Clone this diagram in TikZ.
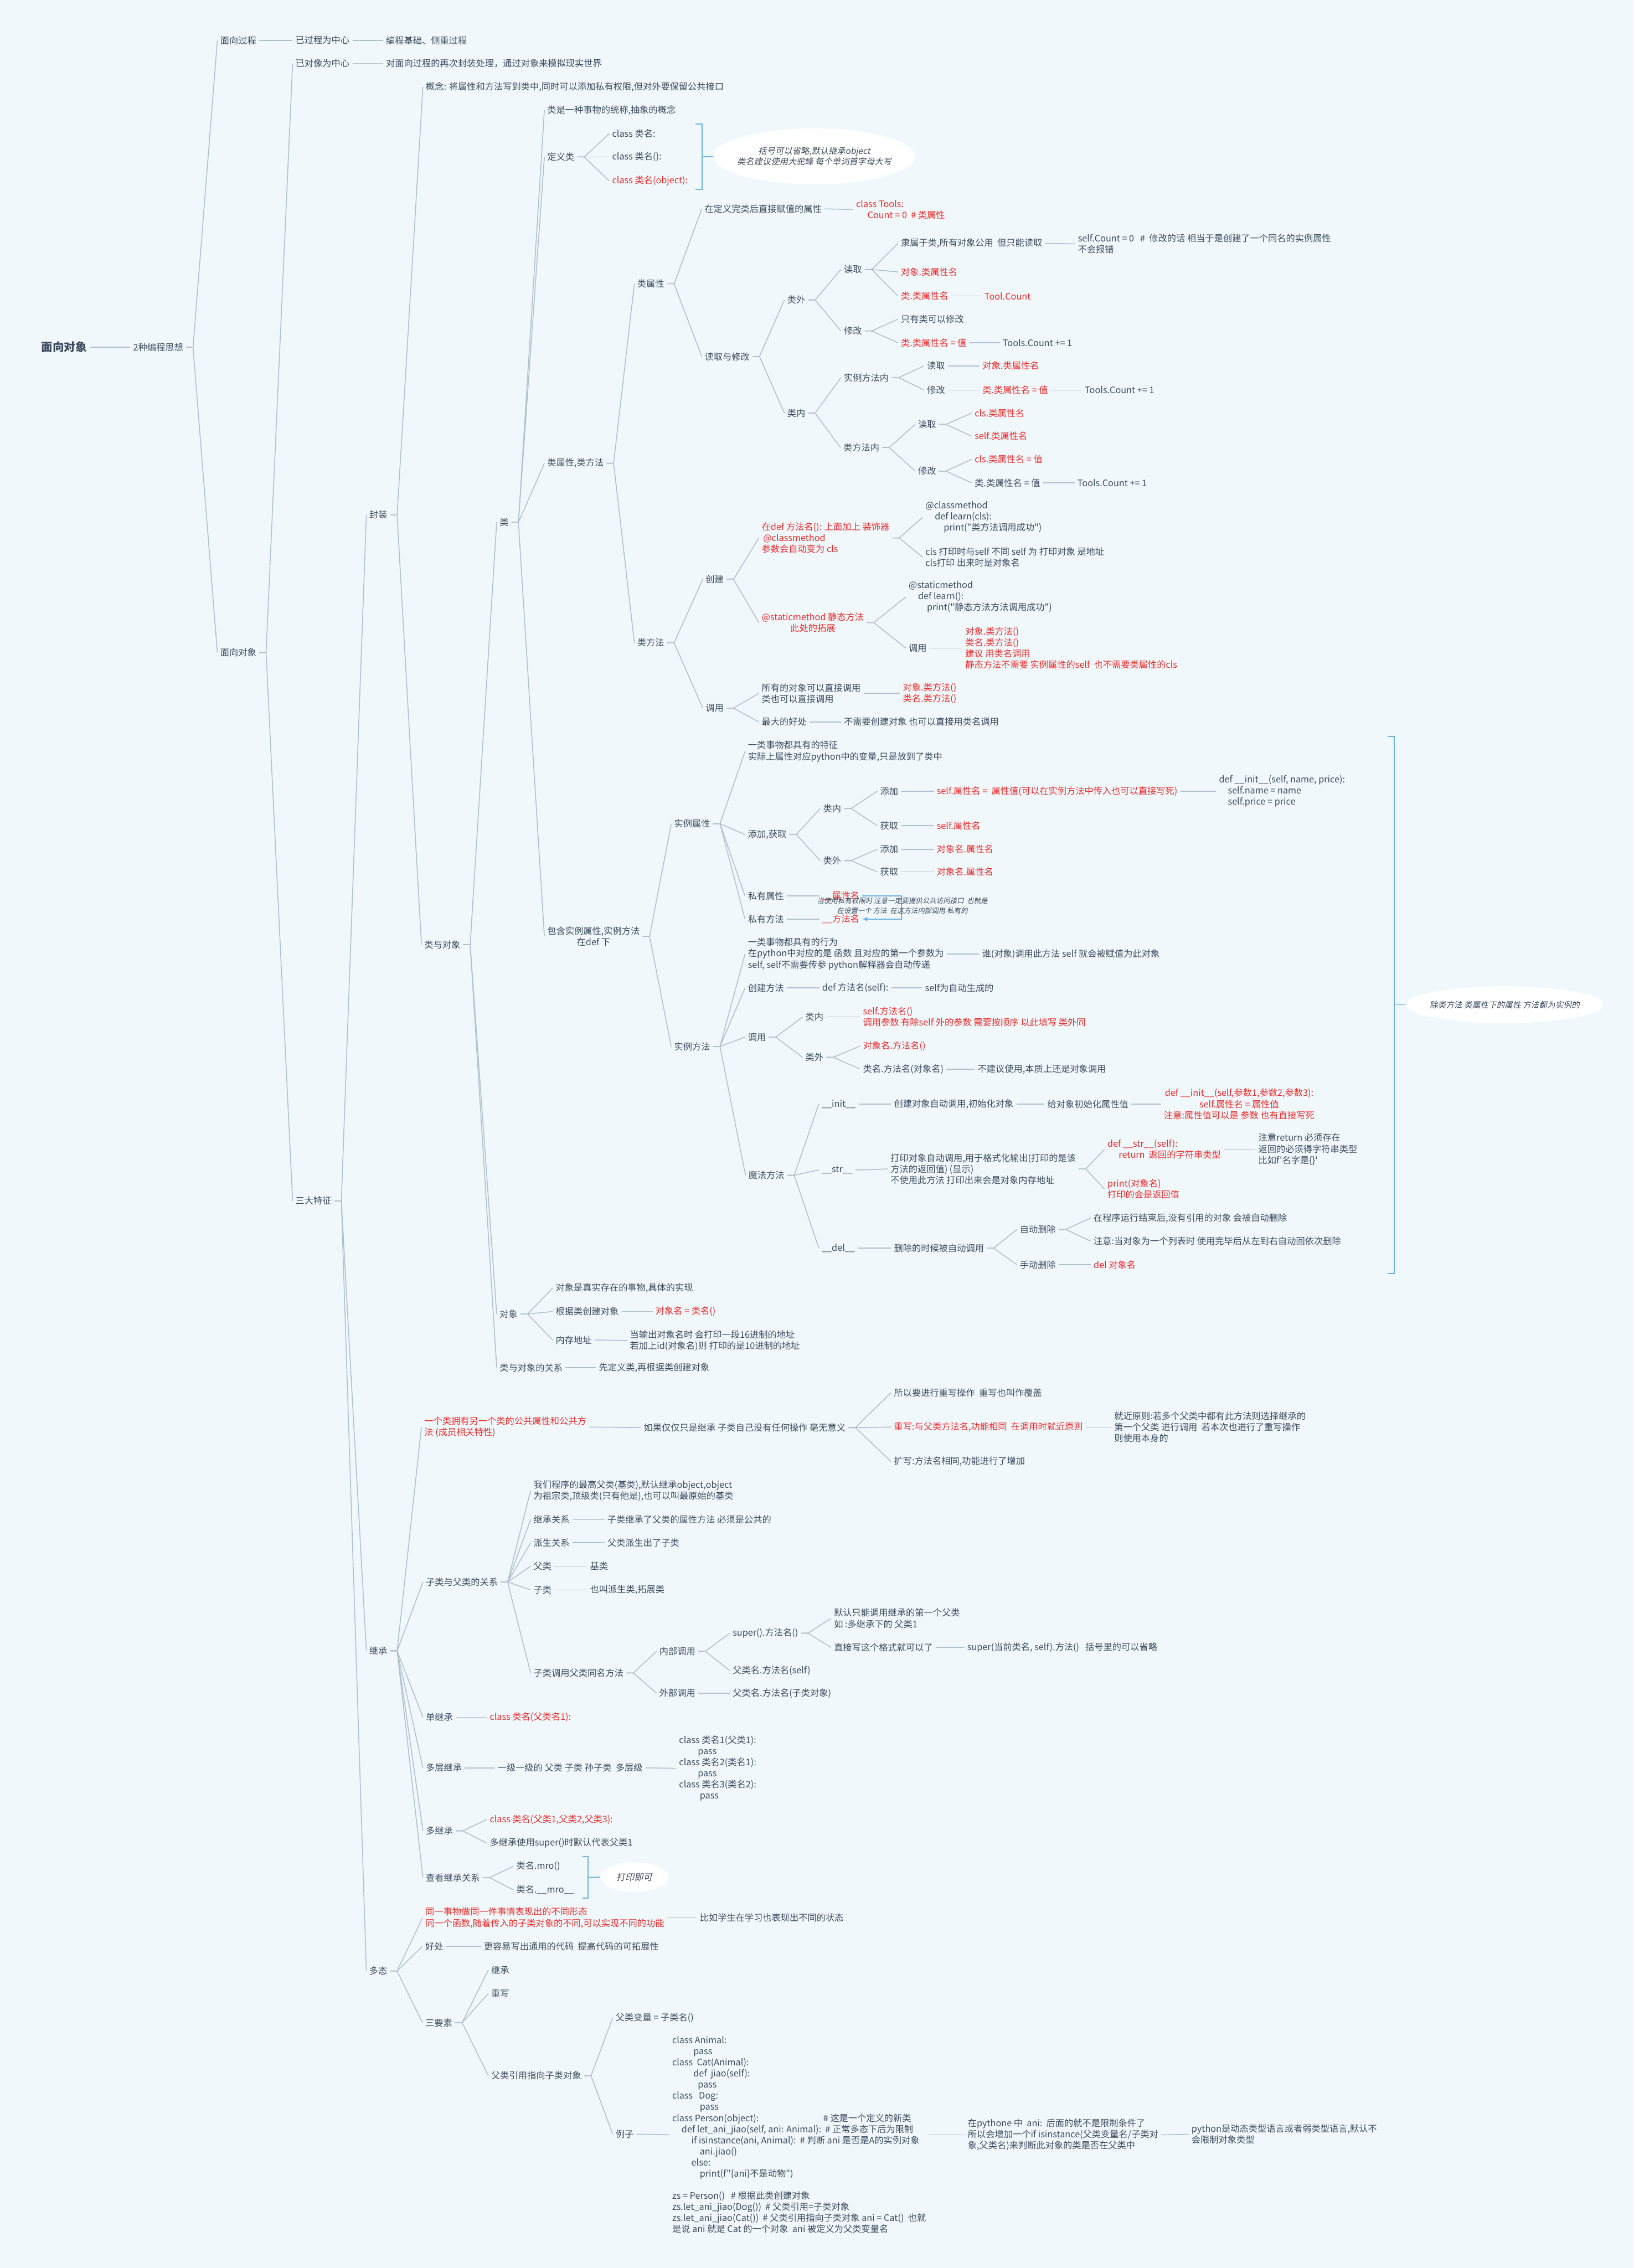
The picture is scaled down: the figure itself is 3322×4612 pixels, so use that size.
\documentclass[tikz,border=0pt]{standalone}
\usepackage{fontspec}
\newfontfamily\mmfont{Noto Sans CJK SC}
\newfontfamily\mmit[FakeSlant=0.18]{Noto Sans CJK SC}
\usepackage{xcolor}
\usepackage{tikz}
\usetikzlibrary{shapes.geometric,arrows.meta}
\definecolor{MMBack}{HTML}{F0F8FB}
\definecolor{MMText}{HTML}{3D4A5E}
\definecolor{MMRed}{HTML}{EE2A2A}
\definecolor{MMLine}{HTML}{B3BFCD}
\definecolor{MMBlue}{HTML}{6CB2E2}
\newcommand{\mmlink}[2]{\draw[mmline] (#1.east) -- ++(14,0) -- (#2.west);}

\begin{document}
\begin{tikzpicture}[x=0.01cm,y=-0.01cm,
  mmtext/.style={anchor=west,inner xsep=1.5pt,inner ysep=1pt,text=MMText,align=left,font=\mmfont\fontsize{5.2}{6.43}\selectfont},
  mmred/.style={mmtext,text=MMRed},
  mmline/.style={draw=MMLine,line width=.5pt},
  mmnote/.style={ellipse,fill=white,inner sep=0pt,text=MMText,align=center,font=\mmit\fontsize{4.9}{6.2}\selectfont},
  mmbrace/.style={draw=MMBlue,line width=.6pt}]
\path[use as bounding box] (0,0) rectangle (3322,4612);
\fill[MMBack] (0,0) rectangle (3322,4612);

\node[mmtext,font=\mmfont\fontsize{6.6}{8}\selectfont\bfseries] (root) at (78,706) {面向对象};
\node[mmtext] (bc) at (265,706) {2种编程思想};
\node[mmtext] (mxgc) at (442,82) {面向过程};
\node[mmtext] (mxdx) at (442,1327) {面向对象};
\node[mmtext] (gcz) at (595,82) {已过程为中心};
\node[mmtext] (gczA) at (779,82) {编程基础、侧重过程};
\node[mmtext] (dxz) at (595,129) {已对像为中心};
\node[mmtext] (dxzA) at (779,129) {对面向过程的再次封装处理，通过对象来模拟现实世界};
\node[mmtext] (tz) at (595,2442) {三大特征};
\node[mmtext] (fz) at (745,1047) {封装};
\node[mmtext] (jc) at (745,3357) {继承};
\node[mmtext] (dt) at (745,4008) {多态};
\node[mmtext] (gn) at (860,177) {概念: 将属性和方法写到类中,同时可以添加私有权限,但对外要保留公共接口};
\node[mmtext] (lyd) at (857,1921) {类与对象};
\node[mmtext] (lei) at (1010,1062) {类};
\node[mmtext] (dx) at (1010,2672) {对象};
\node[mmtext] (gx) at (1010,2781) {类与对象的关系};
\node[mmtext] (gxA) at (1212,2781) {先定义类,再根据类创建对象};

\node[mmtext] (lsy) at (1107,224) {类是一种事物的统称,抽象的概念};
\node[mmtext] (dyl) at (1107,319) {定义类};
\node[mmtext] (lsf) at (1107,942) {类属性,类方法};
\node[mmtext,align=center] (slf) at (1107,1904) {包含实例属性,实例方法\\在def 下};
\node[mmtext] (cA) at (1239,272) {class 类名:};
\node[mmtext] (cB) at (1239,319) {class 类名():};
\node[mmred] (cC) at (1239,368) {class 类名(object):};
\node[mmnote,inner xsep=-0.18cm,minimum width=4.1cm,minimum height=1.14cm] (kh) at (1656,318) {括号可以省略,默认继承object\\类名建议使用大驼峰 每个单词首字母大写};
\draw[mmbrace] (1414,252) -- (1428,252) -- (1428,385) -- (1414,385);
\draw[mmbrace] (1428,319) -- (kh.west);

\node[mmtext] (lsx) at (1290,577) {类属性};
\node[mmtext] (lff) at (1290,1307) {类方法};
\node[mmtext] (zjfz) at (1427,425) {在定义完类后直接赋值的属性};
\node[mmred] (tools) at (1735,426) {class Tools:\\\hspace*{0.23cm}Count = 0 \ \# 类属性};
\node[mmtext] (dqxg) at (1427,725) {读取与修改};
\node[mmtext] (lw) at (1595,610) {类外};
\node[mmtext] (lnei) at (1595,840) {类内};
\node[mmtext] (lwdq) at (1710,548) {读取};
\node[mmtext] (lwxg) at (1710,673) {修改};
\node[mmtext] (lsA) at (1826,495) {隶属于类,所有对象公用\ \ 但只能读取};
\node[mmred] (lsB) at (1826,553) {对象.类属性名};
\node[mmred] (lsC) at (1826,602) {类.类属性名};
\node[mmtext] (lsAa) at (2186,496) {self.Count = 0 \ \ \# \ 修改的话 相当于是创建了一个同名的实例属性\\不会报错};
\node[mmred] (lsCa) at (1996,602) {Tool.Count};
\node[mmtext] (lxA) at (1826,649) {只有类可以修改};
\node[mmred] (lxB) at (1826,697) {类.类属性名 = 值};
\node[mmtext] (lxBa) at (2033,697) {Tools.Count += 1};
\node[mmtext] (slfn) at (1710,768) {实例方法内};
\node[mmtext] (lffn) at (1709,910) {类方法内};
\node[mmtext] (sdq) at (1879,744) {读取};
\node[mmred] (sdqA) at (1992,744) {对象.类属性名};
\node[mmtext] (sxg) at (1879,793) {修改};
\node[mmred] (sxgA) at (1992,793) {类.类属性名 = 值};
\node[mmtext] (sxgB) at (2200,793) {Tools.Count += 1};
\node[mmtext] (fdq) at (1861,863) {读取};
\node[mmred] (fdqA) at (1976,840) {cls.类属性名};
\node[mmred] (fdqB) at (1976,887) {self.类属性名};
\node[mmtext] (fxg) at (1861,958) {修改};
\node[mmred] (fxgA) at (1976,934) {cls.类属性名 = 值};
\node[mmtext] (fxgB) at (1976,982) {类.类属性名 = 值};
\node[mmtext] (fxgC) at (2185,982) {Tools.Count += 1};

\node[mmtext] (cj) at (1429,1178) {创建};
\node[mmtext] (dy) at (1429,1440) {调用};
\node[mmred] (cjA) at (1543,1094) {在def 方法名(): 上面加上 装饰器\\\hspace*{0.03cm}@classmethod\\参数会自动变为 cls};
\node[mmred,align=center] (cjB) at (1543,1266) {@staticmethod 静态方法\\此处的拓展};
\node[mmtext] (cmdA) at (1876,1052) {@classmethod\\\hspace*{0.19cm}def learn(cls):\\\hspace*{0.37cm}print("类方法调用成功")};
\node[mmtext] (cmdB) at (1876,1133) {cls 打印时与self 不同 self 为 打印对象 是地址\\cls打印 出来时是对象名};
\node[mmtext] (smA) at (1842,1214) {@staticmethod\\\hspace*{0.19cm}def learn():\\\hspace*{0.37cm}print("静态方法方法调用成功")};
\node[mmtext] (smB) at (1842,1318) {调用};
\node[mmred] (smC) at (1957,1318) {对象.类方法()\\类名.类方法()\\建议 用类名调用\\静态方法不需要 实例属性的self \ 也不需要类属性的cls};
\node[mmtext] (dyA) at (1543,1410) {所有的对象可以直接调用\\类也可以直接调用};
\node[mmred] (dyAa) at (1830,1410) {对象.类方法()\\类名.类方法()};
\node[mmtext] (dyB) at (1543,1468) {最大的好处};
\node[mmtext] (dyBa) at (1710,1468) {不需要创建对象 也可以直接用类名调用};

\node[mmtext] (sx) at (1365,1675) {实例属性};
\node[mmtext] (sf) at (1365,2128) {实例方法};
\node[mmtext] (sxA) at (1515,1528) {一类事物都具有的特征\\实际上属性对应python中的变量,只是放到了类中};
\node[mmtext] (tjhq) at (1515,1697) {添加,获取};
\node[mmtext] (sysx) at (1515,1822) {私有属性};
\node[mmtext] (syff) at (1515,1869) {私有方法};
\node[mmtext] (tn) at (1668,1644) {类内};
\node[mmtext] (tw) at (1668,1750) {类外};
\node[mmtext] (tnA) at (1784,1609) {添加};
\node[mmred] (tnAa) at (1899,1609) {self.属性名 = \ 属性值(可以在实例方法中传入也可以直接写死)};
\node[mmtext] (tnAb) at (2473,1609) {def \_\_init\_\_(self, name, price):\\\hspace*{0.18cm}self.name = name\\\hspace*{0.18cm}self.price = price};
\node[mmtext] (tnB) at (1784,1679) {获取};
\node[mmred] (tnBa) at (1899,1679) {self.属性名};
\node[mmtext] (twA) at (1784,1727) {添加};
\node[mmred] (twAa) at (1899,1727) {对象名.属性名};
\node[mmtext] (twB) at (1784,1773) {获取};
\node[mmred] (twBa) at (1899,1773) {对象名.属性名};
\node[mmred] (sysxA) at (1666,1822) {\_\_属性名};
\node[mmred] (syffA) at (1666,1869) {\_\_方法名};
\coordinate (rlk) at (1833,1822);
\draw[mmbrace,-{Latex[length=3pt,width=2.6pt]}] (sysxA.east) -- (rlk) |- (syffA.east);
\node[mmtext,anchor=center,align=center,font=\mmit\fontsize{4}{5.6}\selectfont] (rlt) at (1835,1842) {当使用私有权限时 注意一定要提供公共访问接口\ \ 也就是\\在设置一个 方法\ \ 在这方法内部调用 私有的};

\node[mmtext] (sfA) at (1515,1940) {一类事物都具有的行为\\在python中对应的是 函数 且对应的第一个参数为\\self, self不需要传参 python解释器会自动传递};
\node[mmtext] (sfAa) at (1991,1940) {谁(对象)调用此方法 self 就会被赋值为此对象};
\node[mmtext] (cjff) at (1515,2009) {创建方法};
\node[mmtext] (cjffA) at (1666,2009) {def 方法名(self):};
\node[mmtext] (cjffB) at (1875,2009) {self为自动生成的};
\node[mmtext] (sfdy) at (1515,2109) {调用};
\node[mmtext] (sfn) at (1632,2068) {类内};
\node[mmred] (sfnA) at (1749,2068) {self.方法名()\\调用参数 有除self 外的参数 需要按顺序 以此填写 类外同};
\node[mmtext] (sfw) at (1632,2150) {类外};
\node[mmred] (sfwA) at (1749,2127) {对象名.方法名()};
\node[mmtext] (sfwB) at (1749,2174) {类名.方法名(对象名)};
\node[mmtext] (sfwC) at (1982,2174) {不建议使用,本质上还是对象调用};
\node[mmtext] (msff) at (1516,2390) {魔法方法};
\node[mmtext] (zinit) at (1665,2245) {\_\_init\_\_};
\node[mmtext] (zinitA) at (1812,2245) {创建对象自动调用,初始化对象};
\node[mmtext] (zinitB) at (2124,2245) {给对象初始化属性值};
\node[mmred,align=center] (zinitC) at (2361,2245) {def \_\_init\_\_(self,参数1,参数2,参数3):\\self.属性名 = 属性值\\注意:属性值可以是 参数 也有直接写死};
\node[mmtext] (zstr) at (1665,2379) {\_\_str\_\_};
\node[mmtext] (zstrA) at (1805,2377) {打印对象自动调用,用于格式化输出(打印的是该\\方法的返回值) (显示)\\不使用此方法 打印出来会是对象内存地址};
\node[mmred] (zstrB) at (2246,2337) {def \_\_str\_\_(self):\\\hspace*{0.23cm}return\ \ 返回的字符串类型};
\node[mmtext] (zstrBa) at (2553,2337) {注意return 必须存在\\返回的必须得字符串类型\\比如f'名字是\{\}'};
\node[mmred] (zstrC) at (2246,2418) {print(对象名)\\打印的会是返回值};
\node[mmtext] (zdel) at (1665,2538) {\_\_del\_\_};
\node[mmtext] (zdelA) at (1812,2538) {删除的时候被自动调用};
\node[mmtext] (zd) at (2068,2500) {自动删除};
\node[mmtext] (zdA) at (2218,2477) {在程序运行结束后,没有引用的对象 会被自动删除};
\node[mmtext] (zdB) at (2218,2524) {注意:当对象为一个列表时 使用完毕后从左到右自动回依次删除};
\node[mmtext] (sd) at (2068,2572) {手动删除};
\node[mmred] (sdA) at (2218,2572) {del 对象名};
\node[mmnote,inner xsep=-0.24cm,minimum width=4cm,minimum height=0.75cm,font=\mmit\fontsize{4.7}{6}\selectfont] (slz) at (3060,2043) {除类方法 类属性下的属性 方法都为实例的};
\draw[mmbrace] (2822,1498) -- (2835,1498) -- (2835,2590) -- (2822,2590);
\draw[mmbrace] (2835,2043) -- (slz.west);

\node[mmtext] (dxA) at (1124,2619) {对象是真实存在的事物,具体的实现};
\node[mmtext] (dxB) at (1124,2667) {根据类创建对象};
\node[mmred] (dxBa) at (1327,2667) {对象名 = 类名()};
\node[mmtext] (dxC) at (1124,2725) {内存地址};
\node[mmtext] (dxCa) at (1275,2726) {当输出对象名时 会打印一段16进制的地址\\若加上id(对象名)则 打印的是10进制的地址};

\node[mmred] (jcA) at (857,2902) {一个类拥有另一个类的公共属性和公共方\\法 (成员相关特性)};
\node[mmtext] (jcAa) at (1303,2903) {如果仅仅只是继承 子类自己没有任何操作 毫无意义};
\node[mmtext] (cxA) at (1812,2832) {所以要进行重写操作\ \ 重写也叫作覆盖};
\node[mmred] (cxB) at (1812,2902) {重写:与父类方法名,功能相同\ \ 在调用时就近原则};
\node[mmtext] (cxBa) at (2260,2902) {就近原则:若多个父类中都有此方法则选择继承的\\第一个父类 进行调用\ \ 若本次也进行了重写操作\\则使用本身的};
\node[mmtext] (cxC) at (1812,2972) {扩写:方法名相同,功能进行了增加};
\node[mmtext] (zf) at (860,3217) {子类与父类的关系};
\node[mmtext] (zfA) at (1079,3031) {我们程序的最高父类(基类),默认继承object,object\\为祖宗类,顶级类(只有他是),也可以叫最原始的基类};
\node[mmtext] (zfB) at (1079,3090) {继承关系};
\node[mmtext] (zfBa) at (1229,3090) {子类继承了父类的属性方法 必须是公共的};
\node[mmtext] (zfC) at (1079,3137) {派生关系};
\node[mmtext] (zfCa) at (1229,3137) {父类派生出了子类};
\node[mmtext] (zfD) at (1079,3185) {父类};
\node[mmtext] (zfDa) at (1194,3185) {基类};
\node[mmtext] (zfE) at (1079,3233) {子类};
\node[mmtext] (zfEa) at (1194,3233) {也叫派生类,拓展类};
\node[mmtext] (zfF) at (1079,3402) {子类调用父类同名方法};
\node[mmtext] (nb) at (1335,3358) {内部调用};
\node[mmtext] (sp) at (1484,3321) {super().方法名()};
\node[mmtext] (spA) at (1690,3291) {默认只能调用继承的第一个父类\\如 :多继承下的 父类1};
\node[mmtext] (spB) at (1690,3350) {直接写这个格式就可以了};
\node[mmtext] (spBa) at (1961,3350) {super(当前类名, self).方法()\ \ \ 括号里的可以省略};
\node[mmtext] (fl) at (1484,3397) {父类名.方法名(self)};
\node[mmtext] (wb) at (1335,3443) {外部调用};
\node[mmtext] (wbA) at (1484,3443) {父类名.方法名(子类对象)};
\node[mmtext] (dj) at (860,3492) {单继承};
\node[mmred] (djA) at (990,3492) {class 类名(父类名1):};
\node[mmtext] (dcj) at (860,3595) {多层继承};
\node[mmtext] (dcjA) at (1006,3595) {一级一级的 父类 子类 孙子类\ \ 多层级};
\node[mmtext] (dcjB) at (1375,3596) {class 类名1(父类1):\\\hspace*{0.38cm}pass\\class 类名2(类名1):\\\hspace*{0.38cm}pass\\class 类名3(类名2):\\\hspace*{0.42cm}pass};
\node[mmtext] (djc) at (860,3723) {多继承};
\node[mmred] (djcA) at (990,3700) {class 类名(父类1,父类2,父类3):};
\node[mmtext] (djcB) at (990,3748) {多继承使用super()时默认代表父类1};
\node[mmtext] (ck) at (860,3818) {查看继承关系};
\node[mmtext] (ckA) at (1044,3795) {类名.mro()};
\node[mmtext] (ckB) at (1044,3843) {类名.\_\_mro\_\_};
\node[mmnote,minimum width=1.38cm,minimum height=0.6cm,font=\mmit\fontsize{5.2}{6.4}\selectfont] (dyk) at (1290,3817) {打印即可};
\draw[mmbrace] (1185,3775) -- (1196,3775) -- (1196,3860) -- (1185,3860);
\draw[mmbrace] (1196,3818) -- (dyk.west);

\node[mmred] (dtA) at (859,3900) {同一事物做同一件事情表现出的不同形态\\同一个函数,随着传入的子类对象的不同,可以实现不同的功能};
\node[mmtext] (dtAa) at (1417,3900) {比如学生在学习也表现出不同的状态};
\node[mmtext] (dtB) at (859,3958) {好处};
\node[mmtext] (dtBa) at (978,3958) {更容易写出通用的代码\ \ 提高代码的可拓展性};
\node[mmtext] (dtC) at (859,4113) {三要素};
\node[mmtext] (ysA) at (993,4006) {继承};
\node[mmtext] (ysB) at (993,4054) {重写};
\node[mmtext] (ysC) at (993,4221) {父类引用指向子类对象};
\node[mmtext] (ysCa) at (1246,4103) {父类变量 = 子类名()};
\node[mmtext] (lz) at (1246,4340) {例子};
\node[mmtext] (code) at (1361,4341) {class Animal:\\
\hspace*{0.43cm}pass\\
class\ \ Cat(Animal):\\
\hspace*{0.43cm}def\ \ jiao(self):\\
\hspace*{0.52cm}pass\\
class\ \ \ Dog:\\
\hspace*{0.56cm}pass\\
\makebox[3.07cm][l]{class Person(object):}\# 这是一个定义的新类\\
\hspace*{0.19cm}\makebox[2.92cm][l]{def let\_ani\_jiao(self, ani: Animal):}\# 正常多态下后为限制\\
\hspace*{0.39cm}if isinstance(ani, Animal):\ \ \# 判断 ani 是否是A的实例对象\\
\hspace*{0.56cm}ani.jiao()\\
\hspace*{0.39cm}else:\\
\hspace*{0.56cm}print(f"\{ani\}不是动物")\\[6.43pt]
zs = Person()\ \ \ \# 根据此类创建对象\\
zs.let\_ani\_jiao(Dog())\ \ \# 父类引用=子类对象\\
zs.let\_ani\_jiao(Cat())\ \ \# 父类引用指向子类对象 ani = Cat()\ \ 也就\\
是说 ani 就是 Cat 的一个对象\ \ ani 被定义为父类变量名};
\node[mmtext] (lzB) at (1962,4341) {在pythone 中\ \ ani:\ \ 后面的就不是限制条件了\\所以会增加一个if isinstance(父类变量名/子类对\\象,父类名)来判断此对象的类是否在父类中};
\node[mmtext] (lzC) at (2417,4340) {python是动态类型语言或者弱类型语言,默认不\\会限制对象类型};

\mmlink{root}{bc}
\mmlink{bc}{mxgc} \mmlink{bc}{mxdx}
\mmlink{mxgc}{gcz} \mmlink{gcz}{gczA}
\mmlink{mxdx}{dxz} \mmlink{mxdx}{tz} \mmlink{dxz}{dxzA}
\mmlink{tz}{fz} \mmlink{tz}{jc} \mmlink{tz}{dt}
\mmlink{fz}{gn} \mmlink{fz}{lyd}
\mmlink{lyd}{lei} \mmlink{lyd}{dx} \mmlink{lyd}{gx} \mmlink{gx}{gxA}
\mmlink{lei}{lsy} \mmlink{lei}{dyl} \mmlink{lei}{lsf} \mmlink{lei}{slf}
\mmlink{dyl}{cA} \mmlink{dyl}{cB} \mmlink{dyl}{cC}
\mmlink{lsf}{lsx} \mmlink{lsf}{lff}
\mmlink{lsx}{zjfz} \mmlink{lsx}{dqxg} \mmlink{zjfz}{tools}
\mmlink{dqxg}{lw} \mmlink{dqxg}{lnei}
\mmlink{lw}{lwdq} \mmlink{lw}{lwxg}
\mmlink{lwdq}{lsA} \mmlink{lwdq}{lsB} \mmlink{lwdq}{lsC} \mmlink{lsA}{lsAa} \mmlink{lsC}{lsCa}
\mmlink{lwxg}{lxA} \mmlink{lwxg}{lxB} \mmlink{lxB}{lxBa}
\mmlink{lnei}{slfn} \mmlink{lnei}{lffn}
\mmlink{slfn}{sdq} \mmlink{slfn}{sxg} \mmlink{sdq}{sdqA} \mmlink{sxg}{sxgA} \mmlink{sxgA}{sxgB}
\mmlink{lffn}{fdq} \mmlink{lffn}{fxg} \mmlink{fdq}{fdqA} \mmlink{fdq}{fdqB}
\mmlink{fxg}{fxgA} \mmlink{fxg}{fxgB} \mmlink{fxgB}{fxgC}
\mmlink{lff}{cj} \mmlink{lff}{dy}
\mmlink{cj}{cjA} \mmlink{cj}{cjB} \mmlink{cjA}{cmdA} \mmlink{cjA}{cmdB}
\mmlink{cjB}{smA} \mmlink{cjB}{smB} \mmlink{smB}{smC}
\mmlink{dy}{dyA} \mmlink{dy}{dyB} \mmlink{dyA}{dyAa} \mmlink{dyB}{dyBa}
\mmlink{slf}{sx} \mmlink{slf}{sf}
\mmlink{sx}{sxA} \mmlink{sx}{tjhq} \mmlink{sx}{sysx} \mmlink{sx}{syff}
\mmlink{tjhq}{tn} \mmlink{tjhq}{tw}
\mmlink{tn}{tnA} \mmlink{tn}{tnB} \mmlink{tnA}{tnAa} \mmlink{tnAa}{tnAb} \mmlink{tnB}{tnBa}
\mmlink{tw}{twA} \mmlink{tw}{twB} \mmlink{twA}{twAa} \mmlink{twB}{twBa}
\mmlink{sysx}{sysxA} \mmlink{syff}{syffA}
\mmlink{sf}{sfA} \mmlink{sf}{cjff} \mmlink{sf}{sfdy} \mmlink{sf}{msff}
\mmlink{sfA}{sfAa} \mmlink{cjff}{cjffA} \mmlink{cjffA}{cjffB}
\mmlink{sfdy}{sfn} \mmlink{sfdy}{sfw} \mmlink{sfn}{sfnA}
\mmlink{sfw}{sfwA} \mmlink{sfw}{sfwB} \mmlink{sfwB}{sfwC}
\mmlink{msff}{zinit} \mmlink{msff}{zstr} \mmlink{msff}{zdel}
\mmlink{zinit}{zinitA} \mmlink{zinitA}{zinitB} \mmlink{zinitB}{zinitC}
\mmlink{zstr}{zstrA} \mmlink{zstrA}{zstrB} \mmlink{zstrA}{zstrC} \mmlink{zstrB}{zstrBa}
\mmlink{zdel}{zdelA} \mmlink{zdelA}{zd} \mmlink{zdelA}{sd}
\mmlink{zd}{zdA} \mmlink{zd}{zdB} \mmlink{sd}{sdA}
\mmlink{dx}{dxA} \mmlink{dx}{dxB} \mmlink{dx}{dxC} \mmlink{dxB}{dxBa} \mmlink{dxC}{dxCa}
\mmlink{jc}{jcA} \mmlink{jc}{zf} \mmlink{jc}{dj} \mmlink{jc}{dcj} \mmlink{jc}{djc} \mmlink{jc}{ck}
\mmlink{jcA}{jcAa} \mmlink{jcAa}{cxA} \mmlink{jcAa}{cxB} \mmlink{jcAa}{cxC} \mmlink{cxB}{cxBa}
\mmlink{zf}{zfA} \mmlink{zf}{zfB} \mmlink{zf}{zfC} \mmlink{zf}{zfD} \mmlink{zf}{zfE} \mmlink{zf}{zfF}
\mmlink{zfB}{zfBa} \mmlink{zfC}{zfCa} \mmlink{zfD}{zfDa} \mmlink{zfE}{zfEa}
\mmlink{zfF}{nb} \mmlink{zfF}{wb} \mmlink{nb}{sp} \mmlink{nb}{fl}
\mmlink{sp}{spA} \mmlink{sp}{spB} \mmlink{spB}{spBa} \mmlink{wb}{wbA}
\mmlink{dj}{djA} \mmlink{dcj}{dcjA} \mmlink{dcjA}{dcjB}
\mmlink{djc}{djcA} \mmlink{djc}{djcB} \mmlink{ck}{ckA} \mmlink{ck}{ckB}
\mmlink{dt}{dtA} \mmlink{dt}{dtB} \mmlink{dt}{dtC} \mmlink{dtA}{dtAa} \mmlink{dtB}{dtBa}
\mmlink{dtC}{ysA} \mmlink{dtC}{ysB} \mmlink{dtC}{ysC}
\mmlink{ysC}{ysCa} \mmlink{ysC}{lz} \mmlink{lz}{code} \mmlink{code}{lzB} \mmlink{lzB}{lzC}
\end{tikzpicture}
\end{document}
